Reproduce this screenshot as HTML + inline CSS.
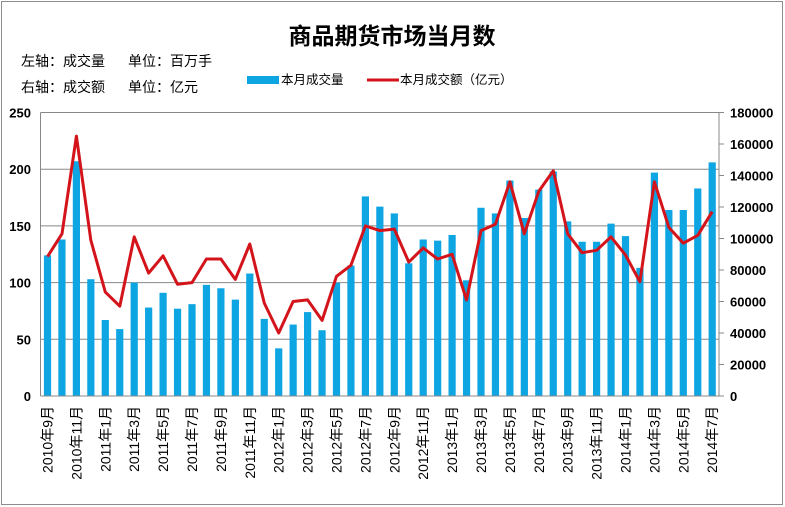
<!DOCTYPE html>
<html><head><meta charset="utf-8"><style>
html,body{margin:0;padding:0;background:#fff;}
svg{display:block;font-family:"Liberation Sans","Noto Sans CJK SC",sans-serif;}
</style></head><body>
<svg id="s" width="785" height="507" viewBox="0 0 785 507" xmlns="http://www.w3.org/2000/svg">
<rect x="1.5" y="1.5" width="781" height="503" fill="#fff" stroke="#8c8c8c" stroke-width="1"/>
<text x="392" y="44" font-size="23" font-weight="bold" text-anchor="middle" fill="#000">商品期货市场当月数</text>
<text x="21" y="66" font-size="14" fill="#000">左轴：成交量</text>
<text x="128" y="66" font-size="14" fill="#000">单位：百万手</text>
<text x="21" y="92" font-size="14" fill="#000">右轴：成交额</text>
<text x="128" y="92" font-size="14" fill="#000">单位：亿元</text>
<rect x="247" y="76" width="32" height="8" fill="#0ea5e3"/>
<text x="281" y="84" font-size="12.5" fill="#000">本月成交量</text>
<line x1="367" y1="80" x2="399" y2="80" stroke="#d4141b" stroke-width="3"/>
<text x="400" y="84" font-size="12.5" fill="#000">本月成交额（亿元）</text>
<g id="grid" stroke="#888" stroke-width="1"></g>
<g id="bars" fill="#0ea5e3"></g>
<polyline id="ln" fill="none" stroke="#d4141b" stroke-width="3" stroke-linejoin="round"/>
<g id="axes" stroke="#888" stroke-width="1"></g>
<g id="lab" fill="#000"></g>
</svg>
<script>
var NS="http://www.w3.org/2000/svg";
function el(p,t,a,txt){var e=document.createElementNS(NS,t);for(var k in a)e.setAttribute(k,a[k]);if(txt!=null)e.textContent=txt;document.getElementById(p).appendChild(e);return e;}
var T=112.5,B=396,L=40.5,R=719;
var vol=[124,138,207,103,67,59,100,78,91,77,81,98,95,85,108,68,42,63,74,58,100,115,176,167,161,117,138,137,142,102,166,161,190,157,182,198,154,136,136,152,141,113,197,164,164,183,206];
var amt=[88500,103000,165000,99000,66000,57000,101000,78000,89000,71000,72000,87000,87000,74000,96500,59000,40000,60000,61000,48000,76000,83000,108000,105000,106000,85000,94000,87000,90000,61000,105000,109000,136000,103000,130000,143000,103000,91000,92500,101000,89500,72500,136000,107000,97000,102000,117000];
for(var v=0;v<=250;v+=50){var y=B-(B-T)*v/250;if(v>0)el("grid","line",{x1:L,y1:y,x2:R,y2:y});
el("lab","text",{x:31,y:y+5,"text-anchor":"end","font-weight":"bold","font-size":"13"},v);}
for(var v=0;v<=180000;v+=20000){var y=B-(B-T)*v/180000;el("axes","line",{x1:R,y1:y,x2:R+5,y2:y});
el("lab","text",{x:730,y:y+5,"font-weight":"bold","font-size":"13"},v);}
el("axes","line",{x1:L,y1:T,x2:L,y2:B});el("axes","line",{x1:R,y1:T,x2:R,y2:B});el("axes","line",{x1:L,y1:B,x2:R,y2:B});
var pts=[];
for(var i=0;i<47;i++){var cx=47.5+i*14.45;var h=(B-T)*vol[i]/250;
el("bars","rect",{x:cx-3.6,y:B-h,width:7.2,height:h});
pts.push(cx.toFixed(1)+","+(B-(B-T)*amt[i]/180000).toFixed(1));
if(i%2==0){var m=(8+i)%12+1,yr=2010+Math.floor((8+i)/12);
el("lab","text",{x:0,y:0,transform:"translate("+(cx+5)+",406) rotate(-90)","text-anchor":"end","font-size":"14"},yr+"年"+m+"月");}}
document.getElementById("ln").setAttribute("points",pts.join(" "));
</script>
</body></html>
